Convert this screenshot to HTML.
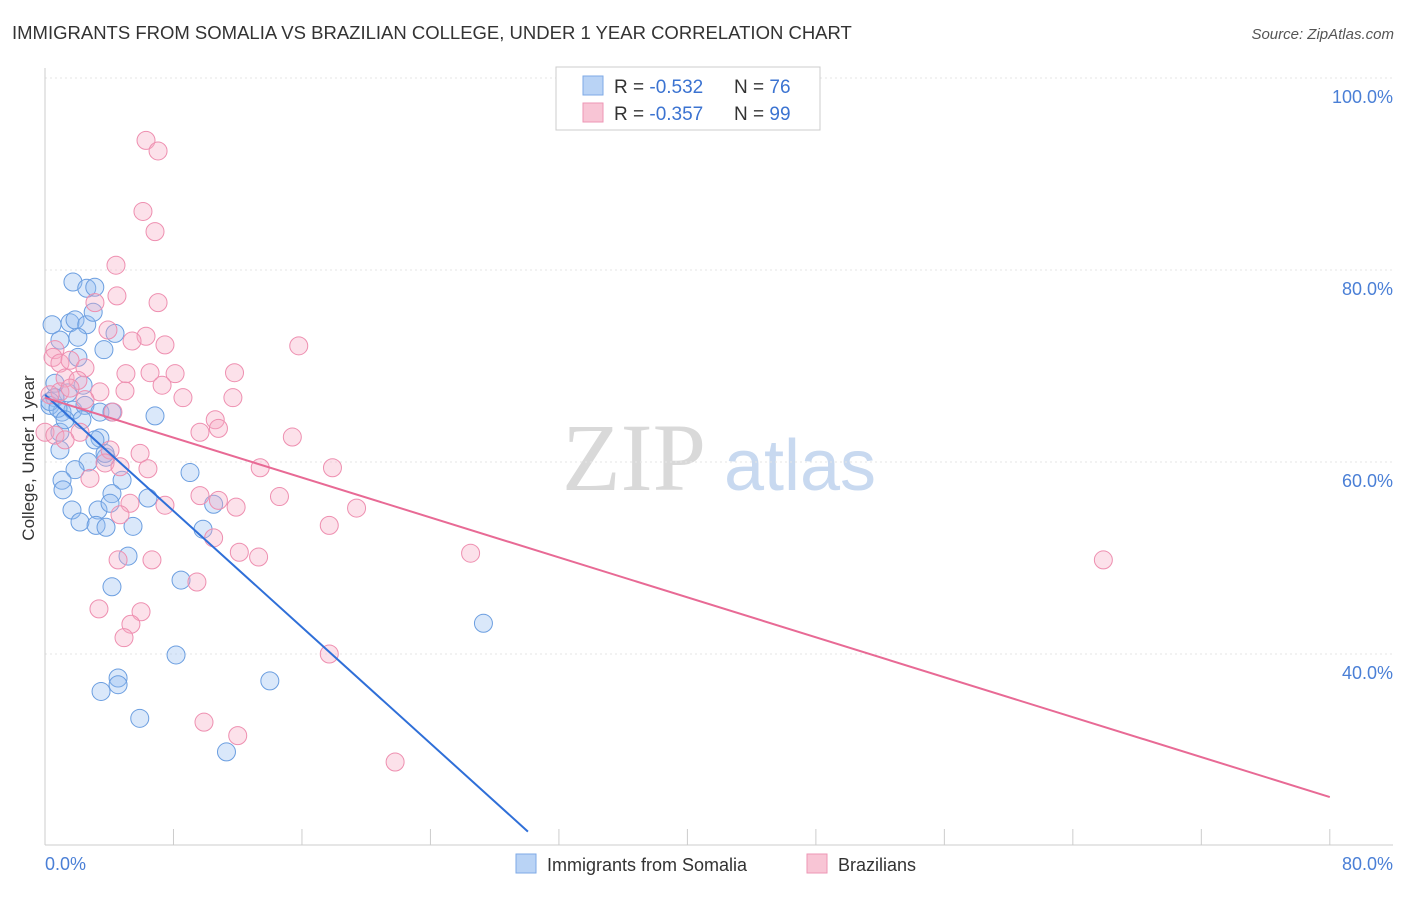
<!DOCTYPE html>
<html><head><meta charset="utf-8"><style>
body{margin:0;background:#fff;font-family:"Liberation Sans",sans-serif;}
</style></head><body>
<svg width="1406" height="892" xmlns="http://www.w3.org/2000/svg" font-family="Liberation Sans, sans-serif" id="chart">
<text x="12" y="39" font-size="18.5" fill="#333">IMMIGRANTS FROM SOMALIA VS BRAZILIAN COLLEGE, UNDER 1 YEAR CORRELATION CHART</text>
<text x="1394" y="39" font-size="15" fill="#555" font-style="italic" text-anchor="end">Source: ZipAtlas.com</text>
<text x="634" y="490" font-size="96" fill="#d9d9d9" font-family="Liberation Serif, serif" text-anchor="middle">ZIP</text>
<text x="800" y="490" font-size="72" fill="#c8d9f0" text-anchor="middle">atlas</text>
<g id="grid"></g><g id="axes"></g><g id="pts"></g><g id="lines"></g>
<text transform="translate(34,458) rotate(-90)" font-size="17" fill="#333" text-anchor="middle">College, Under 1 year</text>
<g>
<rect x="556" y="67" width="264" height="63" fill="#fff" stroke="#ccc"/>
<rect x="583" y="76" width="20" height="19" fill="#b9d3f5" stroke="#7eaae6"/>
<rect x="583" y="103" width="20" height="19" fill="#f8c5d5" stroke="#ee96b5"/>
<text x="614" y="93" font-size="19" fill="#333">R = <tspan fill="#3b73d1">-0.532</tspan></text>
<text x="734" y="93" font-size="19" fill="#333">N = <tspan fill="#3b73d1">76</tspan></text>
<text x="614" y="120" font-size="19" fill="#333">R = <tspan fill="#3b73d1">-0.357</tspan></text>
<text x="734" y="120" font-size="19" fill="#333">N = <tspan fill="#3b73d1">99</tspan></text>
</g>
<g>
<rect x="516" y="854" width="20" height="19" fill="#b9d3f5" stroke="#7eaae6"/>
<text x="547" y="871" font-size="18" fill="#333">Immigrants from Somalia</text>
<rect x="807" y="854" width="20" height="19" fill="#f8c5d5" stroke="#ee96b5"/>
<text x="838" y="871" font-size="18" fill="#333">Brazilians</text>
</g>
</svg>
<script>
const yTicks=[40,60,80,100];
const yTickLabels=["40.0%","60.0%","80.0%","100.0%"];
const xTicks=[0,8,16,24,32,40,48,56,64,72,80];
const xEndLabels=["0.0%","80.0%"];
const somaliaX=[1.74,2.6,3.1,0.44,1.56,1.87,2.6,3.0,2.05,4.36,3.67,2.05,0.93,0.62,1.43,2.37,0.62,0.31,1.06,1.74,2.49,3.42,4.17,2.3,6.85,0.93,3.42,0.93,2.68,3.8,1.87,9.03,1.06,4.8,1.12,4.17,6.41,1.68,3.3,4.05,10.5,2.18,3.18,3.8,5.48,9.84,5.17,8.47,4.17,27.3,8.16,4.55,4.55,3.49,14.0,5.9,11.3,0.31,0.81,3.11,3.74,1.25];
const somaliaY=[78.75,78.1,78.2,74.3,74.5,74.8,74.3,75.6,73.0,73.4,71.7,70.9,72.7,68.2,67.2,68.0,66.7,65.9,65.2,65.4,65.9,65.2,65.2,64.4,64.8,63.1,62.5,61.25,60.0,60.5,59.2,58.9,58.1,58.1,57.1,56.7,56.25,55.0,55.0,55.7,55.6,53.75,53.4,53.2,53.3,53.0,50.2,47.7,47.0,43.2,39.9,37.5,36.8,36.1,37.2,33.3,29.8,66.3,65.6,62.3,60.9,64.4];
const brazilX=[6.29,7.04,6.1,6.85,4.42,4.48,7.04,3.11,3.92,6.29,5.42,7.47,15.8,0.62,0.5,0.93,1.56,2.49,5.04,6.54,8.1,11.8,1.25,2.05,7.29,4.98,3.42,8.59,11.7,0.93,1.56,0.31,2.49,4.23,10.6,10.8,9.65,15.4,2.18,4.05,5.92,3.74,4.67,6.41,13.4,17.9,2.8,9.65,5.29,7.47,10.8,11.9,14.6,19.4,4.67,17.7,10.5,12.1,13.3,26.5,4.55,6.66,65.9,9.46,3.36,5.98,5.35,4.92,17.7,9.9,12.0,21.8,0,0.62,1.25];
const brazilY=[93.5,92.4,86.1,84.0,80.5,77.3,76.6,76.6,73.75,73.1,72.6,72.2,72.1,71.7,70.9,70.3,70.6,69.8,69.2,69.3,69.2,69.3,68.75,68.5,68.0,67.4,67.3,66.7,66.7,67.3,67.7,67.0,66.5,65.2,64.4,63.5,63.1,62.6,63.1,61.25,60.9,59.9,59.5,59.3,59.4,59.4,58.3,56.5,55.7,55.5,56.0,55.3,56.4,55.2,54.5,53.4,52.1,50.6,50.1,50.5,49.8,49.8,49.8,47.5,44.7,44.4,43.1,41.7,40.0,32.9,31.5,28.75,63.1,62.8,62.3];
const somaliaLine=[[0,67.0],[30.07,21.5]];
const brazilLine=[[0,66.7],[80,25.1]];
const NS="http://www.w3.org/2000/svg";
const X=v=>45+v*16.06;
const Y=v=>654-(v-40)*9.6;
function mk(tag,attrs,parent){const e=document.createElementNS(NS,tag);for(const k in attrs)e.setAttribute(k,attrs[k]);document.getElementById(parent).appendChild(e);return e;}
yTicks.forEach((t,i)=>{
 const g=mk('line',{x1:45,x2:1393,y1:Y(t),y2:Y(t),stroke:'#e6e6e6','stroke-dasharray':'2,3'},'grid');
 
 
 const l=mk('text',{x:1393,y:Y(t)+25,'font-size':18,fill:'#4a7fd6','text-anchor':'end'},'axes');
 l.textContent=yTickLabels[i];
 
 
});
const ax=mk('line',{x1:45,x2:1393,y1:845,y2:845,stroke:'#ccc'},'axes');


const ay=mk('line',{x1:45,x2:45,y1:68,y2:845,stroke:'#ccc'},'axes');


xTicks.forEach(t=>{const e=mk('line',{x1:X(t),x2:X(t),y1:829,y2:845,stroke:'#ccc'},'axes');
 
 });
[[0,'start'],[80,'end']].forEach((p,i)=>{const e=mk('text',{x:i?1393:45,y:870,'font-size':18,fill:'#4a7fd6','text-anchor':p[1]},'axes');e.textContent=xEndLabels[i];
 
 });
somaliaX.forEach((v,i)=>{const c=mk('circle',{cx:X(v),cy:Y(somaliaY[i]),r:9,fill:'rgba(150,190,240,0.35)',stroke:'#6b9ee0','stroke-width':1},'pts');
 
 });
brazilX.forEach((v,i)=>{const c=mk('circle',{cx:X(v),cy:Y(brazilY[i]),r:9,fill:'rgba(245,170,195,0.35)',stroke:'#ee8fb0','stroke-width':1},'pts');
 
 });
const l1=mk('line',{x1:X(somaliaLine[0][0]),y1:Y(somaliaLine[0][1]),x2:X(somaliaLine[1][0]),y2:Y(somaliaLine[1][1]),stroke:'#2f6fd8','stroke-width':2},'lines');


const l2=mk('line',{x1:X(brazilLine[0][0]),y1:Y(brazilLine[0][1]),x2:X(brazilLine[1][0]),y2:Y(brazilLine[1][1]),stroke:'#e86a95','stroke-width':2},'lines');


</script>
</body></html>
